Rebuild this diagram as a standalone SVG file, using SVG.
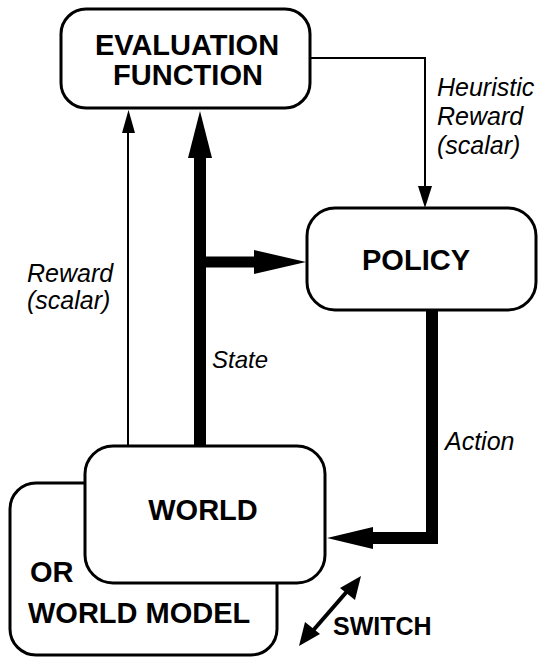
<svg xmlns="http://www.w3.org/2000/svg" width="538" height="657" viewBox="0 0 538 657">
<style>
.box{fill:#fff;stroke:#000;stroke-width:3}
.node{font-family:"Liberation Sans",Arial,sans-serif;font-weight:bold;font-size:29px;fill:#000;text-anchor:middle}
.lbl{font-family:"Liberation Sans",Arial,sans-serif;font-style:italic;font-size:25px;fill:#000}
.thin{fill:none;stroke:#000;stroke-width:2}
.thick{fill:none;stroke:#000;stroke-width:12}
.head{fill:#000;stroke:none}
</style>
<rect width="538" height="657" fill="#fff"/>
<g id="world-model">
<rect class="box" x="10" y="483" width="267" height="172" rx="26"/>
<text class="node" x="30" y="582" style="text-anchor:start">OR</text>
<text class="node" x="28" y="623" style="text-anchor:start">WORLD MODEL</text>
</g>
<g id="world">
<rect class="box" x="85" y="446" width="240" height="137" rx="28"/>
<text class="node" x="203" y="520">WORLD</text>
</g>
<g id="evaluation-function">
<rect class="box" x="61" y="9" width="249" height="99" rx="25"/>
<text class="node" x="187" y="55">EVALUATION</text>
<text class="node" x="188" y="85">FUNCTION</text>
</g>
<g id="policy">
<rect class="box" x="307" y="208" width="229" height="102" rx="28"/>
<text class="node" x="416" y="270">POLICY</text>
</g>
<g id="connectors">
<!-- heuristic reward -->
<polyline class="thin" points="310,58 425,58 425,190"/>
<polygon class="head" points="418,186 432,186 425,208"/>
<!-- reward -->
<line class="thin" x1="128" y1="446" x2="128" y2="128"/>
<polygon class="head" points="122,133 135,133 128.5,110"/>
<!-- state -->
<line class="thick" x1="200" y1="446" x2="200" y2="150"/>
<polygon class="head" points="188,158 212,158 200,111"/>
<line class="thick" x1="200" y1="262" x2="258" y2="262" style="stroke-width:11"/>
<polygon class="head" points="254,250 254,274 306,262"/>
<!-- action -->
<polyline class="thick" points="432,310 432,538 368,538"/>
<polygon class="head" points="373,527 373,549 327,538"/>
<!-- switch -->
<line x1="310" y1="634" x2="350" y2="588" stroke="#000" stroke-width="4"/>
<polygon class="head" points="361,576 355,600 340,588"/>
<polygon class="head" points="299,646 305,622 320,634"/>
</g>
<g id="labels">
<text class="lbl" x="437" y="96">Heuristic</text>
<text class="lbl" x="437" y="125">Reward</text>
<text class="lbl" x="437" y="154">(scalar)</text>
<text class="lbl" x="27" y="282">Reward</text>
<text class="lbl" x="27" y="309">(scalar)</text>
<text class="lbl" x="212" y="368" style="font-size:24px">State</text>
<text class="lbl" x="445" y="450">Action</text>
<text class="node" x="333" y="635" style="text-anchor:start;font-size:25px">SWITCH</text>
</g>
</svg>
